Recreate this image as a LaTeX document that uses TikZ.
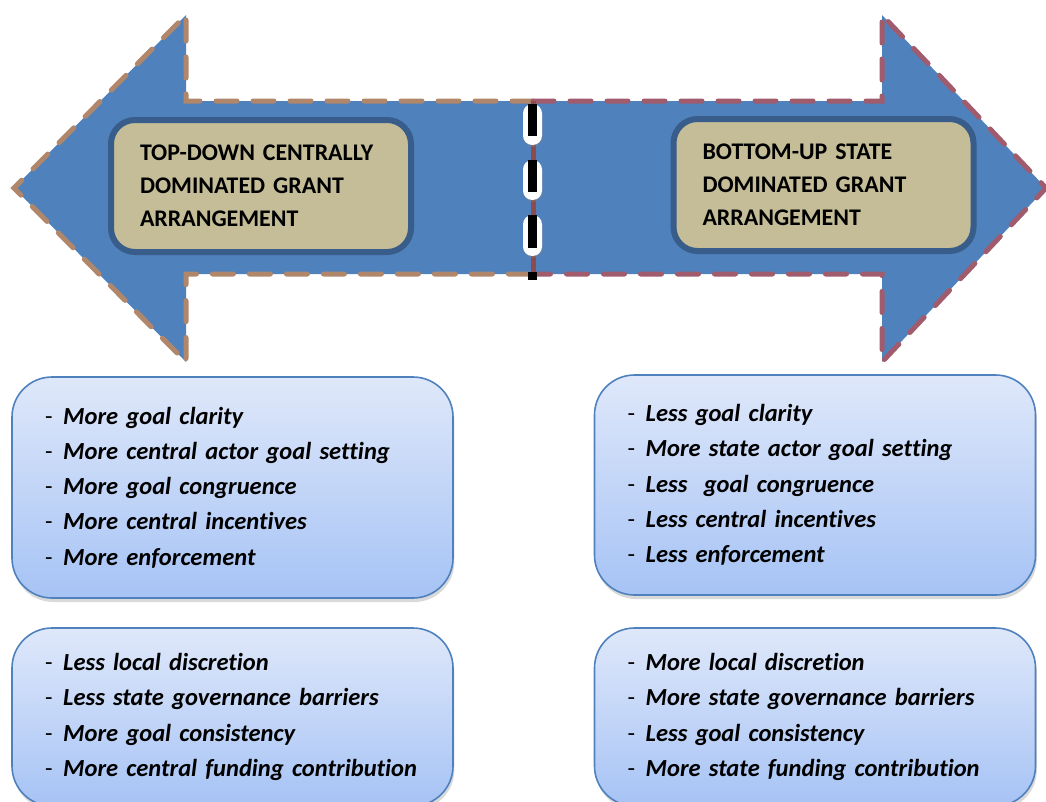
\documentclass[tikz,border=0pt]{standalone}
\usepackage{fontspec}
\setmainfont{Carlito}[Ligatures=NoCommon]
\usepackage{tkz-euclide}
\usetikzlibrary{shadows}
\definecolor{arrowblue}{HTML}{4F81BD}
\definecolor{leftdash}{HTML}{B0876A}
\definecolor{rightdash}{HTML}{A05C6C}
\definecolor{divred}{HTML}{8E4B4B}
\definecolor{tanfill}{HTML}{C4BD97}
\definecolor{tanline}{HTML}{385D8A}
\definecolor{boxtop}{HTML}{DFE8FA}
\definecolor{boxbot}{HTML}{A6C3F5}
\definecolor{boxline}{HTML}{4F81BD}
\newcommand{\goalline}[1]{\mbox{{\mdseries\upshape -}\hspace{8pt}\textbf{\textit{#1}}}}
\begin{document}
\begin{tikzpicture}[x=0.75pt,y=-0.75pt,
    edge/.style={line width=3.75pt,dash pattern=on 15.75pt off 12pt},
    headbox/.style={draw=tanline,line width=4.5pt,fill=tanfill,rounded corners=18pt,
      minimum width=225pt,minimum height=99pt,inner xsep=21.75pt,text width=181.5pt,
      align=left,font=\fontsize{17.9}{24.75}\selectfont\bfseries},
    goalbox/.style={draw=boxline,line width=1.2pt,top color=boxtop,bottom color=boxbot,
      rounded corners=30pt,drop shadow={opacity=0.3,shadow xshift=1pt,shadow yshift=-3pt},
      minimum width=330.75pt,inner xsep=24.75pt,text width=281.25pt,
      align=left,font=\fontsize{18.4}{26.4}\selectfont}]
    \useasboundingbox (0,0) rectangle (1046,801);
    \tkzDefPoints{14/188/L_tip,186/15/L_up,186/101/L_in,533/101/M_t,
      533/274/M_b,186/274/L_lo,186/362/L_dn}
    \tkzDefPoints{1046/188/R_tip,882/15/R_up,882/101/R_in,882/274/R_lo,882/362/R_dn}
    \tkzFillPolygon[fill=arrowblue](L_tip,L_up,L_in,M_t,M_b,L_lo,L_dn)
    \tkzFillPolygon[fill=arrowblue](R_tip,R_up,R_in,M_t,M_b,R_lo,R_dn)
    \tkzDrawPolySeg[edge,leftdash](M_t,L_in,L_up,L_tip,L_dn,L_lo,M_b)
    \tkzDrawPolySeg[edge,rightdash](M_t,R_in,R_up,R_tip,R_dn,R_lo,M_b)
    \draw[divred,line width=3.75pt] (M_t) -- (M_b);
    \fill[white,rounded corners=7pt,drop shadow={opacity=0.4,shadow xshift=0.5pt,shadow yshift=-1.5pt}] (523,104) rectangle (542,145);
    \fill[white,rounded corners=7pt,drop shadow={opacity=0.4,shadow xshift=0.5pt,shadow yshift=-1.5pt}] (523,160) rectangle (542,200);
    \fill[white,rounded corners=7pt,drop shadow={opacity=0.4,shadow xshift=0.5pt,shadow yshift=-1.5pt}] (523,215) rectangle (542,256);
    \fill (528,104) rectangle (537,136);
    \fill (528,160) rectangle (537,192);
    \fill (528,215) rectangle (537,248);
    \fill (528,272) rectangle (537,280);
    \node[headbox] (lefthead) at (261,186)
      {\mbox{TOP-DOWN CENTRALLY}\\\mbox{DOMINATED GRANT}\\\mbox{ARRANGEMENT}};
    \node[headbox] (righthead) at (823.5,185)
      {\mbox{BOTTOM-UP STATE}\\\mbox{DOMINATED GRANT}\\\mbox{ARRANGEMENT}};
    \node[goalbox,minimum height=165.75pt] (leftgoals) at (232.5,487.5)
      {\goalline{More goal clarity}\\\goalline{More central actor goal setting}\\
       \goalline{More goal congruence}\\\goalline{More central incentives}\\
       \goalline{More enforcement}};
    \node[goalbox,minimum height=165pt] (rightgoals) at (815,485)
      {\goalline{Less goal clarity}\\\goalline{More state actor goal setting}\\
       \goalline{Less \ goal congruence}\\\goalline{Less central incentives}\\
       \goalline{Less enforcement}};
    \node[goalbox,minimum height=133.5pt] (leftgov) at (232.5,717)
      {\goalline{Less local discretion}\\\goalline{Less state governance barriers}\\
       \goalline{More goal consistency}\\\goalline{More central funding contribution}};
    \node[goalbox,minimum height=133.5pt] (rightgov) at (815,717)
      {\goalline{More local discretion}\\\goalline{More state governance barriers}\\
       \goalline{Less goal consistency}\\\goalline{More state funding contribution}};
\end{tikzpicture}
\end{document}
